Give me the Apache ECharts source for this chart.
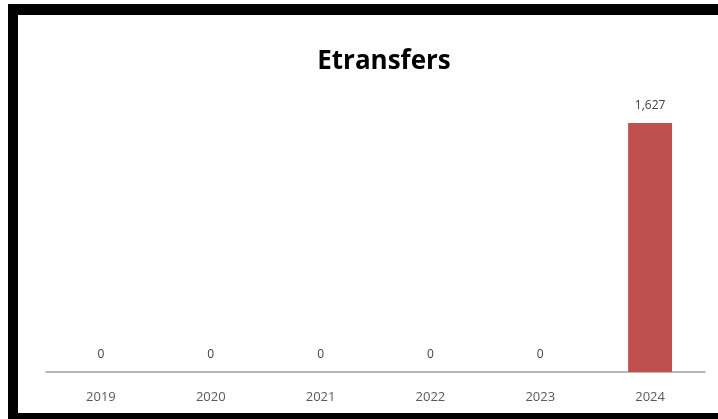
<!DOCTYPE html>
<html>
<head>
<meta charset="utf-8">
<script src="https://cdn.jsdelivr.net/npm/echarts@6/dist/echarts.min.js"></script>
<style>
html,body{margin:0;padding:0;background:#fff;}
#wrap{position:relative;width:718px;height:419px;overflow:hidden;background:#fff;}
#chart{position:absolute;left:0;top:0;width:718px;height:419px;}
.b{position:absolute;background:#000;}
</style>
</head>
<body>
<div id="wrap">
<div id="chart"></div>
<div class="b" style="left:8px;top:4px;width:10px;height:415px;"></div>
<div class="b" style="left:8px;top:4px;width:710px;height:11px;"></div>
<div class="b" style="left:8px;top:413px;width:710px;height:6px;"></div>
</div>
<script>
const title = 'Etransfers';
const categories = ['2019', '2020', '2021', '2022', '2023', '2024'];
const values = [0, 0, 0, 0, 0, 1627];

const chart = echarts.init(document.getElementById('chart'));
chart.setOption({
  animation: false,
  title: {
    text: title,
    left: 379,
    textAlign: 'center',
    top: 44,
    textStyle: {fontFamily: 'Open Sans', fontWeight: 'bold', fontSize: 26, color: '#000'}
  },
  grid: {left: 46, right: 13, top: 96.5, bottom: 47},
  xAxis: {
    type: 'category',
    data: categories,
    axisLine: {lineStyle: {color: '#a0a0a0', width: 1.5}},
    axisTick: {show: false},
    axisLabel: {color: '#595959', fontFamily: 'Open Sans', fontSize: 13, margin: 19}
  },
  yAxis: {
    type: 'value',
    min: 0,
    max: 1800,
    show: false,
    splitLine: {show: false}
  },
  series: [{
    type: 'bar',
    data: values,
    barWidth: '40%',
    itemStyle: {color: '#C0504D'},
    label: {
      show: true,
      position: 'top',
      distance: 11,
      color: '#404040',
      fontFamily: 'Open Sans',
      fontSize: 12,
      formatter: p => p.value.toLocaleString('en-US')
    }
  }]
});
</script>
</body>
</html>
